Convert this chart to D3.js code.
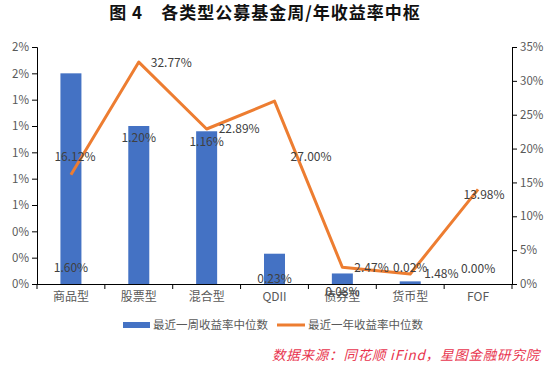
<!DOCTYPE html>
<html><head><meta charset="utf-8">
<script src="https://cdn.jsdelivr.net/npm/d3@7/dist/d3.min.js"></script>
<style>
html,body{margin:0;padding:0;background:#fff;}
svg{display:block;}
</style></head>
<body>
<script>
const categories = ["商品型","股票型","混合型","QDII","债券型","货币型","FOF"];
const weekMedian = [1.60, 1.20, 1.16, 0.23, 0.08, 0.02, 0.00];
const yearMedian = [16.12, 32.77, 22.89, 27.00, 2.47, 1.48, 13.98];
const leftTicks = [0, 0.2, 0.4, 0.6, 0.8, 1.0, 1.2, 1.4, 1.6, 1.8];
const rightTicks = [0, 5, 10, 15, 20, 25, 30, 35];
const seriesNames = ["最近一周收益率中位数", "最近一年收益率中位数"];
const titleText = "图 4　各类型公募基金周/年收益率中枢";
const sourceText = "数据来源：同花顺 iFind，星图金融研究院";

// label placement offsets (pixels, relative to anchor)
const barLabelPos = [
  {dx:0, y0:true, dy:-16}, {dx:0, dy:12}, {dx:0, dy:11},
  {dx:0, y0:true, dy:-5}, {dx:0, y0:true, dy:8}, {dx:0, y0:true, dy:-16}, {dx:0, y0:true, dy:-15}
];
const lineLabelPos = [
  {dx:4, dy:-18, anchor:"middle"}, {dx:12, dy:1, anchor:"start"}, {dx:12, dy:0, anchor:"start"},
  {dx:16, dy:56, anchor:"start"}, {dx:12, dy:1, anchor:"start"}, {dx:14, dy:0, anchor:"start"},
  {dx:6, dy:5, anchor:"middle"}
];

const W = 548, H = 368;
const svg = d3.select("body").append("svg").attr("width", W).attr("height", H);
svg.append("rect").attr("width", W).attr("height", H).attr("fill", "#fff");

const pL = 37, pR = 512, pT = 47, pB = 284;
const x = d3.scaleBand().domain(categories).range([pL, pR]).paddingInner(0).paddingOuter(0);
const yL = d3.scaleLinear().domain([0, 1.8]).range([pB, pT]);
const yR = d3.scaleLinear().domain([0, 35]).range([pB, pT]);

const font = "'Noto Sans CJK SC','Noto Sans',sans-serif";
const tickColor = "#595959";

// Title
svg.append("text").attr("x", 265).attr("y", 19).attr("text-anchor", "middle")
  .attr("font-family", "'Noto Sans CJK SC',serif").attr("font-weight", "bold")
  .attr("font-size", 17).attr("letter-spacing", 1).attr("fill", "#111").text(titleText);

// Bars
const barW = 21;
svg.append("g").selectAll("rect").data(weekMedian).join("rect")
  .attr("x", (d, i) => x(categories[i]) + x.bandwidth() / 2 - barW / 2)
  .attr("y", d => yL(d))
  .attr("width", barW)
  .attr("height", d => pB - yL(d))
  .attr("fill", "#4472C4");

// Line
const line = d3.line().x((d, i) => x(categories[i]) + x.bandwidth() / 2).y(d => yR(d));
svg.append("path").datum(yearMedian).attr("d", line)
  .attr("fill", "none").attr("stroke", "#ED7D31").attr("stroke-width", 3).attr("stroke-linejoin", "round");

// Axes
const axL = svg.append("g").attr("transform", `translate(${pL},0)`)
  .call(d3.axisLeft(yL).tickValues(leftTicks).tickSize(5).tickPadding(3).tickFormat(d => d3.format(".0f")(d) + "%"));
const axR = svg.append("g").attr("transform", `translate(${pR},0)`)
  .call(d3.axisRight(yR).tickValues(rightTicks).tickSize(5).tickPadding(3).tickFormat(d => d + "%"));
const axX = svg.append("g").attr("transform", `translate(0,${pB})`)
  .call(d3.axisBottom(x).tickSize(0).tickPadding(8));
// category boundary ticks
svg.append("g").selectAll("line").data(d3.range(categories.length + 1)).join("line")
  .attr("x1", i => pL + i * x.bandwidth()).attr("x2", i => pL + i * x.bandwidth())
  .attr("y1", pB).attr("y2", pB + 5).attr("stroke", "#000").attr("stroke-width", 1);

[axL, axR, axX].forEach(a => {
  a.select(".domain").attr("stroke", "#000");
  a.selectAll(".tick line").attr("stroke", "#000");
  a.selectAll("text").attr("font-family", font).attr("fill", tickColor).attr("font-size", 11.5);
});
axX.selectAll("text").attr("font-size", 12);
axX.select(".domain").attr("d", `M${pL},0.5H${pR}`);

// Bar labels
const lblColor = "#404040";
svg.append("g").selectAll("text").data(weekMedian).join("text")
  .attr("x", (d, i) => x(categories[i]) + x.bandwidth() / 2 + barLabelPos[i].dx)
  .attr("y", (d, i) => (barLabelPos[i].y0 ? yL(0) : yL(d)) + barLabelPos[i].dy)
  .attr("dy", "0.35em").attr("text-anchor", "middle")
  .attr("font-family", font).attr("font-size", 12).attr("fill", lblColor)
  .text(d => d.toFixed(2) + "%");

// Line labels
svg.append("g").selectAll("text").data(yearMedian).join("text")
  .attr("x", (d, i) => x(categories[i]) + x.bandwidth() / 2 + lineLabelPos[i].dx)
  .attr("y", (d, i) => yR(d) + lineLabelPos[i].dy)
  .attr("dy", "0.35em").attr("text-anchor", (d, i) => lineLabelPos[i].anchor)
  .attr("font-family", font).attr("font-size", 12).attr("fill", lblColor)
  .text(d => d.toFixed(2) + "%");

// Legend
const lg = svg.append("g");
lg.append("rect").attr("x", 123).attr("y", 322).attr("width", 27).attr("height", 6).attr("fill", "#4472C4");
lg.append("text").attr("x", 153).attr("y", 325).attr("dy", "0.35em").attr("font-family", font)
  .attr("font-size", 11.5).attr("fill", tickColor).text(seriesNames[0]);
lg.append("line").attr("x1", 277).attr("x2", 305).attr("y1", 325).attr("y2", 325)
  .attr("stroke", "#ED7D31").attr("stroke-width", 3);
lg.append("text").attr("x", 308).attr("y", 325).attr("dy", "0.35em").attr("font-family", font)
  .attr("font-size", 11.5).attr("fill", tickColor).text(seriesNames[1]);

// Source
svg.append("text").attr("x", 540).attr("y", 355).attr("dy", "0.35em").attr("text-anchor", "end")
  .attr("font-family", font).attr("font-style", "italic").attr("font-size", 13.5)
  .attr("letter-spacing", 0.8)
  .attr("fill", "#E8344E").text(sourceText);
</script>
</body></html>
